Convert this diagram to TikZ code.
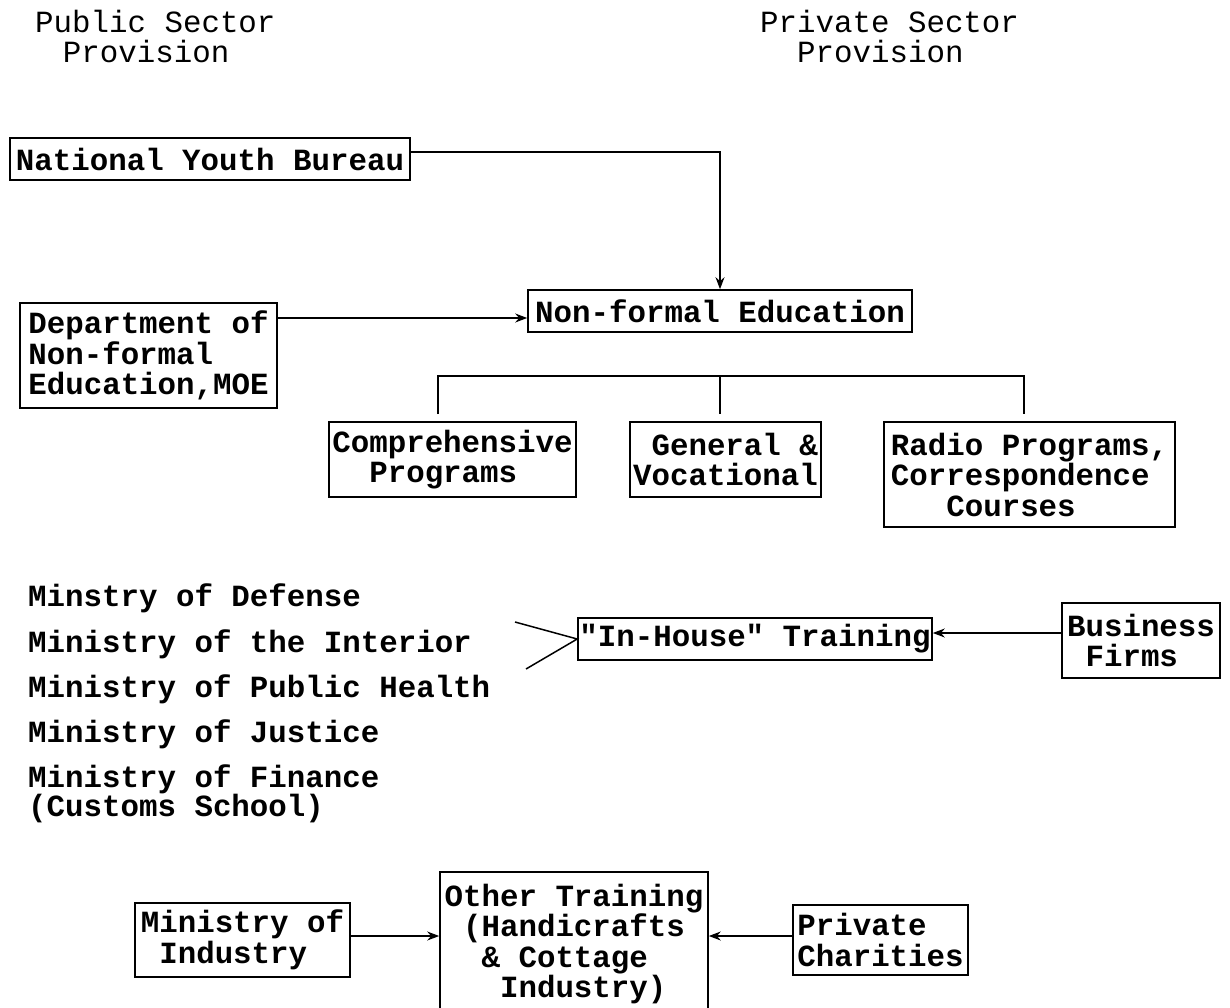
\documentclass[tikz,border=0pt]{standalone}
\usepackage{fontspec}
\usetikzlibrary{arrows.meta}
\newfontfamily\boxmono{Liberation Mono}
\tikzset{
  lbl/.style={font=\boxmono\bfseries\fontsize{30.8}{30.5}\selectfont},
  box/.style={lbl, draw, line width=1.6pt, inner sep=0pt, align=left},
  listitem/.style={lbl, anchor=base west, inner sep=0pt},
  head/.style={font=\boxmono\fontsize{30.8}{30}\selectfont, align=left, inner sep=0pt, anchor=north west},
  link/.style={line width=1.5pt},
  arr/.style={link, -{Stealth[length=12pt,width=9pt]}},
}
\begin{document}
\begin{tikzpicture}[x=1pt,y=-1pt]
\useasboundingbox (0,0) rectangle (1230,1008);
\fill[white] (0,0) rectangle (1230,1008);
\clip (0,0) rectangle (1230,1008);

% column headings
\node[head] (pub) at (35,10) {Public Sector\\\hspace*{0.9em}Provision};
\node[head] (pri) at (760,10) {Private Sector\\\hspace*{1.2em}Provision};

% non-formal education branch
\node[box, minimum width=400pt, minimum height=42pt] (nyb) at (210,159) {National Youth Bureau};
\node[box, minimum width=384pt, minimum height=42pt] (nfe) at (720,311) {Non-formal Education};
\node[box, minimum width=257pt, minimum height=105pt] (dept) at (148.5,355.5) {Department of\\Non-formal\\Education,MOE};
\node[box, minimum width=247pt, minimum height=75pt] (comp) at (452.5,459.5) {Comprehensive\\\hspace*{1.2em}Programs};
\node[box, minimum width=191pt, minimum height=75pt] (gen) at (725.5,459.5) {\hspace*{0.6em}General \&\\Vocational};
\node[box, minimum width=291pt, minimum height=105pt] (radio) at (1029.5,474.5) {Radio Programs,\\Correspondence\\\hspace*{1.8em}Courses};

% in-house training
\node[listitem] (mdef) at (28,606) {Minstry of Defense};
\node[listitem] (mint) at (28,652) {Ministry of the Interior};
\node[listitem] (mph)  at (28,697) {Ministry of Public Health};
\node[listitem] (mjus) at (28,742) {Ministry of Justice};
\node[listitem] (mfin) at (28,787) {Ministry of Finance};
\node[listitem] (mcus) at (28,816) {(Customs School)};
\node[box, minimum width=354pt, minimum height=42pt] (ih) at (755,639) {"In-House" Training};
\node[box, minimum width=158pt, minimum height=75pt] (biz) at (1141,640.5) {Business\\\hspace*{0.6em}Firms};

% other training
\node[box, minimum width=215pt, minimum height=74pt] (moi) at (242.5,940) {Ministry of\\\hspace*{0.6em}Industry};
\node[box, minimum width=268pt, minimum height=168pt] (oth) at (574,956) {Other Training\\\hspace*{0.6em}(Handicrafts\\\hspace*{1.2em}\& Cottage\\\hspace*{1.8em}Industry)\\\mbox{}};
\node[box, minimum width=175pt, minimum height=70pt] (pch) at (880.5,940) {Private\\Charities};

% connectors
\coordinate (nybturn) at (720,152);
\draw[arr] (nyb.east |- nybturn) -- (nybturn) -- (nfe.north);
\coordinate (deptrow) at (0,318);
\draw[arr] (dept.east |- deptrow) -- (nfe.west |- deptrow);

\coordinate (brl) at (438,376);
\coordinate (brm) at (720,376);
\coordinate (brr) at (1024,376);
\coordinate (dropl) at (438,414);
\coordinate (dropm) at (720,414);
\coordinate (dropr) at (1024,414);
\draw[link] (dropl) -- (brl) -- (brr) -- (dropr);
\draw[link] (brm) -- (dropm);

\coordinate (vup) at (515,622);
\coordinate (vlo) at (526,669);
\draw[link] (vup) -- (ih.west) -- (vlo);
\coordinate (bizrow) at (0,633);
\draw[arr] (biz.west |- bizrow) -- (ih.east |- bizrow);

\coordinate (otherrow) at (0,936);
\draw[arr] (moi.east |- otherrow) -- (oth.west |- otherrow);
\draw[arr] (pch.west |- otherrow) -- (oth.east |- otherrow);
\end{tikzpicture}
\end{document}
